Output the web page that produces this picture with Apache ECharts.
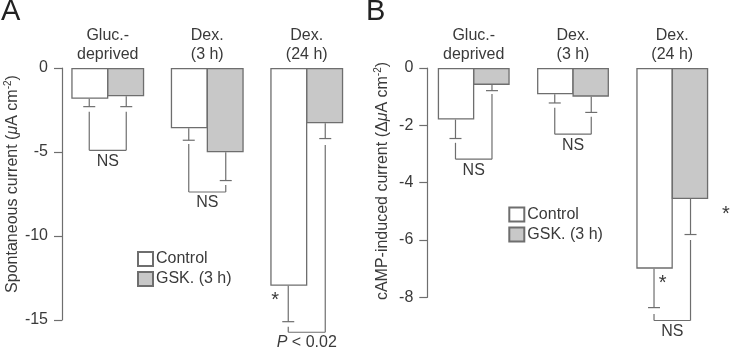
<!DOCTYPE html>
<html><head><meta charset="utf-8">
<script src="https://cdn.jsdelivr.net/npm/echarts@6/dist/echarts.min.js"></script>
<style>html,body{margin:0;padding:0;background:#fff}#c{width:730px;height:348px}</style>
</head><body><div id="c"></div>
<script>
// ---- data ----
const groupLabels = ['Gluc.-\ndeprived', 'Dex.\n(3 h)', 'Dex.\n(24 h)'];
const seriesNames = ['Control', 'GSK. (3 h)'];
// Panel A: spontaneous current (µA cm-2)
const aControl = [-1.83, -3.59, -12.96];
const aGSK = [-1.68, -5.02, -3.29];
const aControlErr = [-2.3, -4.3, -15.1];
const aGSKErr = [-2.3, -6.7, -4.2];
const aTicks = [0, -5, -10, -15];
// brackets: [group, leftStart, rightStart, level]
const aBrackets = [[0, -2.6, -2.6, -4.9], [1, -4.52, -6.96, -7.38], [2, -15.4, -4.58, -15.73]];
const aBracketLabels = ['NS', 'NS', 'P < 0.02'];
// asterisks: [group, side(0 control / 1 GSK), value]
const aStars = [[2, 0, -13.57]];
// Panel B: cAMP-induced current (ΔµA cm-2)
const bControl = [-1.80, -0.92, -7.0];
const bGSK = [-0.59, -1.0, -4.57];
const bControlErr = [-2.46, -1.22, -8.36];
const bGSKErr = [-0.79, -1.55, -5.81];
const bTicks = [0, -2, -4, -6, -8];
const bBrackets = [[0, -2.61, -0.91, -3.18], [1, -1.39, -1.70, -2.31], [2, -8.58, -6.0, -8.81]];
const bBracketLabels = ['NS', 'NS', 'NS'];
const bStars = [[2, 0, -7.34], [2, 1, -4.93]];

// ---- styles ----
const FONT = 'Liberation Sans, Arial, sans-serif';
const TXT = '#3a3a3a';
const LINE = '#6e6e6e';
const FILL = '#c8c8c8';

function makeErr(ctrl, ctrlErr, gsk, gskErr) {
  const d = [];
  for (let i = 0; i < ctrl.length; i++) {
    d.push([i, -1, ctrl[i], ctrlErr[i]]);
    d.push([i, 1, gsk[i], gskErr[i]]);
  }
  return d;
}

function errRender(bw) {
  return function (params, api) {
    const cat = api.value(0), side = api.value(1);
    const p0 = api.coord([cat, api.value(2)]);
    const p1 = api.coord([cat, api.value(3)]);
    const x = p0[0] + side * bw / 2;
    const st = { stroke: LINE, lineWidth: 1.2, fill: null };
    return { type: 'group', children: [
      { type: 'line', shape: { x1: x, y1: p0[1], x2: x, y2: p1[1] }, style: st },
      { type: 'line', shape: { x1: x - 6, y1: p1[1], x2: x + 6, y2: p1[1] }, style: st }
    ]};
  };
}

function bracketRender(bw, labels) {
  return function (params, api) {
    const cat = api.value(0);
    const l = api.coord([cat, api.value(1)]);
    const r = api.coord([cat, api.value(2)]);
    const lv = api.coord([cat, api.value(3)]);
    const xl = l[0] - bw / 2, xr = l[0] + bw / 2;
    const st = { stroke: LINE, lineWidth: 1.2, fill: null };
    const lab = labels[params.dataIndex];
    let textEl;
    if (lab.indexOf('P') === 0) {
      textEl = { type: 'text', x: (xl + xr) / 2, y: lv[1] + 2,
        style: { text: '{i|P}{n| < 0.02}', rich: { i: { fontStyle: 'italic', fontSize: 16, fontFamily: FONT, fill: TXT }, n: { fontSize: 16, fontFamily: FONT, fill: TXT } },
          align: 'center', verticalAlign: 'top' } };
    } else {
      textEl = { type: 'text', x: (xl + xr) / 2, y: lv[1] + 3,
        style: { text: lab, fontSize: 16, fontFamily: FONT, fill: TXT, align: 'center', verticalAlign: 'top' } };
    }
    return { type: 'group', children: [
      { type: 'line', shape: { x1: xl, y1: l[1], x2: xl, y2: lv[1] }, style: st },
      { type: 'line', shape: { x1: xr, y1: r[1], x2: xr, y2: lv[1] }, style: st },
      { type: 'line', shape: { x1: xl, y1: lv[1], x2: xr, y2: lv[1] }, style: st },
      textEl
    ]};
  };
}

function starRender(dxs) {
  return function (params, api) {
    const p = api.coord([api.value(0), api.value(2)]);
    const dx = dxs[params.dataIndex];
    return { type: 'text', x: p[0] + dx, y: p[1] + 5,
      style: { text: '*', fontSize: 20, fontFamily: FONT, fill: TXT, align: 'center', verticalAlign: 'middle' } };
  };
}

function yAxisCfg(gi, min, interval, offset) {
  return {
    gridIndex: gi, type: 'value', min: min, max: 0, interval: interval, offset: offset,
    axisLine: { show: true, lineStyle: { color: LINE, width: 1.2 } },
    axisTick: { show: true, length: 8, lineStyle: { color: LINE, width: 1.2 } },
    axisLabel: { margin: 14, color: TXT, fontSize: 16, fontFamily: FONT },
    splitLine: { show: false }
  };
}
function xAxisCfg(gi) {
  return {
    gridIndex: gi, type: 'category', data: groupLabels, position: 'top',
    axisLine: { show: false }, axisTick: { show: false },
    axisLabel: { margin: 4, color: TXT, fontSize: 16, fontFamily: FONT, lineHeight: 19, interval: 0 }
  };
}

const BWA = 37, BWB = 36.5;
function barSeries(name, data, gi, bw, fill) {
  return { type: 'bar', name: name, xAxisIndex: gi, yAxisIndex: gi, data: data, barWidth: bw, barGap: '-3%',
    itemStyle: { color: fill, borderColor: LINE, borderWidth: 1.3 }, silent: true, animation: false };
}

const option = {
  animation: false,
  textStyle: { fontFamily: FONT },
  grid: [
    { left: 58, width: 298.5, top: 68, height: 252 },
    { left: 424.1, width: 297.8, top: 68, height: 229.3 }
  ],
  xAxis: [xAxisCfg(0), xAxisCfg(1)],
  yAxis: [yAxisCfg(0, -15, 5, -4), yAxisCfg(1, -8, 2, -3.2)],
  legend: [
    { left: 132, top: 246, orient: 'vertical', itemWidth: 15, itemHeight: 14, itemGap: 4, icon: 'rect', selectedMode: false,
      data: seriesNames, textStyle: { color: TXT, fontSize: 16, fontFamily: FONT, padding: [0, 0, 0, -2] } },
    { left: 503.3, top: 201.5, orient: 'vertical', itemWidth: 15, itemHeight: 14, itemGap: 4, icon: 'rect', selectedMode: false,
      data: seriesNames, textStyle: { color: TXT, fontSize: 16, fontFamily: FONT, padding: [0, 0, 0, -2] } }
  ],
  graphic: [
    { type: 'text', left: 1, top: -3, style: { text: 'A', fontSize: 29, fontFamily: FONT, fill: '#222' } },
    { type: 'text', left: 366, top: -3, style: { text: 'B', fontSize: 29, fontFamily: FONT, fill: '#222' } },
    { type: 'text', x: 13, y: 184, rotation: Math.PI / 2,
      style: { text: '{a|Spontaneous current (}{i|μ}{a|A cm}{s|-2}{a|)}', align: 'center', verticalAlign: 'middle',
        rich: { a: { fontSize: 16, fontFamily: FONT, fill: TXT }, i: { fontSize: 16, fontFamily: FONT, fill: TXT, fontStyle: 'italic' },
          s: { fontSize: 10, fontFamily: FONT, fill: TXT, padding: [0, 0, 9, 0] } } } },
    { type: 'text', x: 383, y: 181, rotation: Math.PI / 2,
      style: { text: '{a|cAMP-induced current (Δ}{i|μ}{a|A cm}{s|-2}{a|)}', align: 'center', verticalAlign: 'middle',
        rich: { a: { fontSize: 16, fontFamily: FONT, fill: TXT }, i: { fontSize: 16, fontFamily: FONT, fill: TXT, fontStyle: 'italic' },
          s: { fontSize: 10, fontFamily: FONT, fill: TXT, padding: [0, 0, 9, 0] } } } }
  ],
  series: [
    barSeries(seriesNames[0], aControl, 0, BWA, '#ffffff'),
    barSeries(seriesNames[1], aGSK, 0, BWA, FILL),
    barSeries(seriesNames[0], bControl, 1, BWB, '#ffffff'),
    barSeries(seriesNames[1], bGSK, 1, BWB, FILL),
    { type: 'custom', xAxisIndex: 0, yAxisIndex: 0, clip: false, silent: true, data: makeErr(aControl, aControlErr, aGSK, aGSKErr), renderItem: errRender(BWA), z: 3 },
    { type: 'custom', xAxisIndex: 1, yAxisIndex: 1, clip: false, silent: true, data: makeErr(bControl, bControlErr, bGSK, bGSKErr), renderItem: errRender(BWB), z: 3 },
    { type: 'custom', xAxisIndex: 0, yAxisIndex: 0, clip: false, silent: true, data: aBrackets, renderItem: bracketRender(BWA, aBracketLabels), z: 3 },
    { type: 'custom', xAxisIndex: 1, yAxisIndex: 1, clip: false, silent: true, data: bBrackets, renderItem: bracketRender(BWB, bBracketLabels), z: 3 },
    { type: 'custom', xAxisIndex: 0, yAxisIndex: 0, clip: false, silent: true, data: aStars, renderItem: starRender([-31.5]), z: 3 },
    { type: 'custom', xAxisIndex: 1, yAxisIndex: 1, clip: false, silent: true, data: bStars, renderItem: starRender([-9.6, 53.7]), z: 3 }
  ]
};
const chart = echarts.init(document.getElementById('c'), null, { renderer: 'canvas' });
chart.setOption(option);
</script></body></html>
